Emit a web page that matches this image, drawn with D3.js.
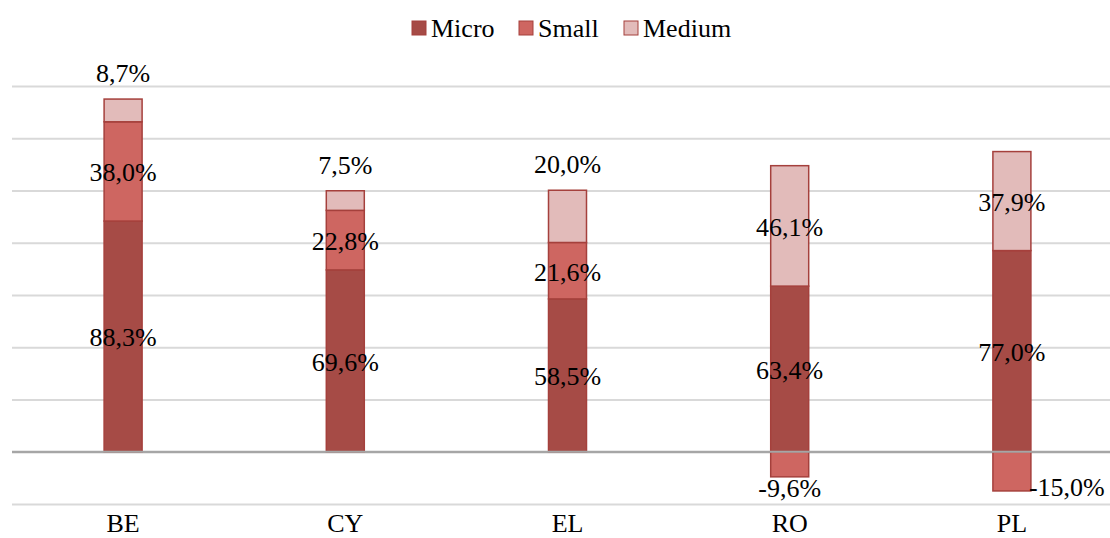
<!DOCTYPE html>
<html>
<head>
<meta charset="utf-8">
<script src="https://cdn.jsdelivr.net/npm/d3@7"></script>
<style>
  html, body { margin: 0; padding: 0; background: #fff; }
  svg { display: block; font-family: "Liberation Serif", "Times New Roman", serif; }
</style>
</head>
<body>
<div id="chart"></div>
<script>
// stacked bars: enterprise size classes, values in %
const categories = ['BE', 'CY', 'EL', 'RO', 'PL'];
const seriesNames = ['Micro', 'Small', 'Medium'];
const micro  = [88.3, 69.6, 58.5, 63.4, 77.0];
const small  = [38.0, 22.8, 21.6, -9.6, -15.0];
const medium = [8.7, 7.5, 20.0, 46.1, 37.9];
const yTicks = [-20, 0, 20, 40, 60, 80, 100, 120, 140];
// where each data label sits relative to its segment
const microPos  = ['center', 'center', 'center', 'center', 'center'];
const smallPos  = ['center', 'center', 'center', 'below', 'right'];
const mediumPos = ['above', 'above', 'above', 'center', 'center'];

(function(){
  const width = 1110, height = 538;
  const margin = { top: 86, bottom: 34, left: 12, right: -13 };
  const colors = { Micro: '#a64b46', Small: '#ce6661', Medium: '#e2bbba' };
  const series = { Micro: micro, Small: small, Medium: medium };
  const positions = { Micro: microPos, Small: smallPos, Medium: mediumPos };

  const rows = categories.map((c, i) => ({ cat: c, Micro: micro[i], Small: small[i], Medium: medium[i] }));
  const stacked = d3.stack().keys(seriesNames).offset(d3.stackOffsetDiverging)(rows);

  const svg = d3.select('#chart').append('svg')
    .attr('width', width).attr('height', height);

  const x = d3.scaleBand()
    .domain(categories)
    .range([margin.left, width - margin.right])
    .paddingInner(0).paddingOuter(0);
  const y = d3.scaleLinear()
    .domain([-20, 140])
    .range([height - margin.bottom, margin.top]);

  const barW = 38;
  const fmt = d3.formatLocale({ decimal: ',', thousands: '.', grouping: [3], currency: ['', ''], minus: '-' }).format('.1f');

  // gridlines
  svg.append('g')
    .attr('transform', `translate(${margin.left},0)`)
    .call(d3.axisLeft(y).tickValues(yTicks).tickSize(-(width - margin.left - margin.right)).tickFormat(''))
    .call(g => g.select('.domain').remove())
    .call(g => g.selectAll('.tick line')
      .attr('stroke', d => d === 0 ? '#a6a6a6' : '#d9d9d9')
      .attr('stroke-width', 2));

  // bars
  const groups = svg.append('g').selectAll('g')
    .data(stacked).enter().append('g')
    .attr('fill', d => colors[d.key]);
  groups.selectAll('rect')
    .data(d => d.map(v => ({ key: d.key, v })))
    .enter().append('rect')
    .attr('x', d => x(d.v.data.cat) + x.bandwidth() / 2 - barW / 2)
    .attr('y', d => y(Math.max(d.v[0], d.v[1])))
    .attr('width', barW)
    .attr('height', d => Math.abs(y(d.v[0]) - y(d.v[1])))
    .attr('stroke', '#a5403c')
    .attr('stroke-width', 1.5);

  // zero line over bars
  svg.append('line')
    .attr('x1', margin.left).attr('x2', width)
    .attr('y1', y(0)).attr('y2', y(0))
    .attr('stroke', '#a6a6a6').attr('stroke-width', 2);

  // data labels
  const labels = [];
  stacked.forEach(s => {
    s.forEach((v, i) => {
      const val = series[s.key][i];
      const pos = positions[s.key][i];
      const top = y(Math.max(v[0], v[1])), bot = y(Math.min(v[0], v[1]));
      const cx = x(v.data.cat) + x.bandwidth() / 2;
      let lx = cx, ly = (top + bot) / 2 + 10, anchor = 'middle';
      if (pos === 'above') ly = top - 17;
      if (pos === 'below') ly = bot + 20;
      if (pos === 'right') { lx = cx + barW / 2 - 2; ly = bot + 5; anchor = 'start'; }
      labels.push({ text: fmt(val) + '%', x: lx, y: ly, anchor });
    });
  });
  svg.append('g').selectAll('text')
    .data(labels).enter().append('text')
    .attr('x', d => d.x).attr('y', d => d.y)
    .attr('text-anchor', d => d.anchor)
    .attr('font-size', 26).attr('fill', '#000')
    .text(d => d.text);

  // category axis labels
  svg.append('g')
    .attr('transform', `translate(0,${height - margin.bottom})`)
    .call(d3.axisBottom(x).tickSize(0).tickPadding(0))
    .call(g => g.select('.domain').remove())
    .call(g => g.selectAll('text')
      .attr('dy', 0).attr('y', 28)
      .attr('font-size', 26).attr('fill', '#000')
      .attr('font-family', '"Liberation Serif", "Times New Roman", serif'));

  // legend
  const legendX = [412, 519, 624];
  const legend = svg.append('g').selectAll('g')
    .data(seriesNames).enter().append('g')
    .attr('transform', (d, i) => `translate(${legendX[i]},0)`);
  legend.append('rect')
    .attr('x', 0).attr('y', 21).attr('width', 14).attr('height', 14)
    .attr('fill', d => colors[d])
    .attr('stroke', '#a5403c').attr('stroke-width', 1);
  legend.append('text')
    .attr('x', 19).attr('y', 37)
    .attr('font-size', 26).attr('fill', '#000')
    .text(d => d);
})();
</script>
</body>
</html>
